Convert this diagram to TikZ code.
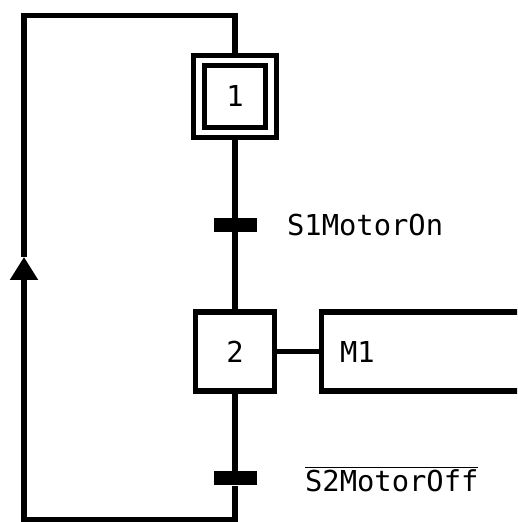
\documentclass[tikz,border=0pt]{standalone}
\usepackage{fontspec}
\setmonofont{DejaVu Sans Mono}
\usetikzlibrary{arrows.meta, positioning}

\begin{document}
\begin{tikzpicture}[x=0.5pt, y=0.5pt,
      font=\ttfamily\fontsize{14.4}{17}\selectfont,
      flow/.style={line width=2.6pt},
      stepbox/.style={draw, line width=2.6pt, minimum size=39.5pt, inner sep=0pt, outer sep=0pt},
      initstep/.style={draw, double, line width=2.5pt, double distance=2.6pt,
         minimum size=36pt, inner sep=0pt, outer sep=3.8pt},
      trans/.style={fill=black, minimum width=21.5pt, minimum height=7pt, inner sep=0pt},
      actbox/.style={draw, line width=2.6pt, minimum width=130pt, minimum height=39.5pt,
         inner sep=0pt, outer sep=0pt, anchor=west}]
            \clip[use as bounding box] (0,0) rectangle (517,522);
            % Steps
            \node[initstep] (s1) at (235,425.5) {1};
            \node[stepbox] (s2) at (235,170.5) {2};
            % Action of step 2
            \node[actbox] (act) at (321.5,170.5) {};
            \node[anchor=base west] (m1) at (333,159) {M1};
            \draw[flow] (s2.east) -- (act.west);
            % Transitions
            \node[trans] (t1) at (235,297) {};
            \node[trans] (t2) at (235,43.5) {};
            \node[anchor=base west] (c1) at (280,286) {S1MotorOn};
            \node[anchor=base west] (c2) at (298,30) {$\overline{\mbox{S2MotorOff}}$};
            \draw[flow] (s1) -- (t1) -- (s2);
            % Loop back to step 1
            \coordinate (bot) at (235,2.5);
            \coordinate (botleft) at (24,2.5);
            \coordinate (tip) at (24,265);
            \coordinate (topleft) at (24,506.5);
            \coordinate (top) at (235,506.5);
            \draw[flow, -{Triangle[length=11.5pt, width=13.5pt]}]
               (s2) -- (t2) -- (bot) -- (botleft) -- (tip);
            \draw[flow] (tip) -- (topleft) -- (top) -- (s1);
         \end{tikzpicture}
\end{document}
